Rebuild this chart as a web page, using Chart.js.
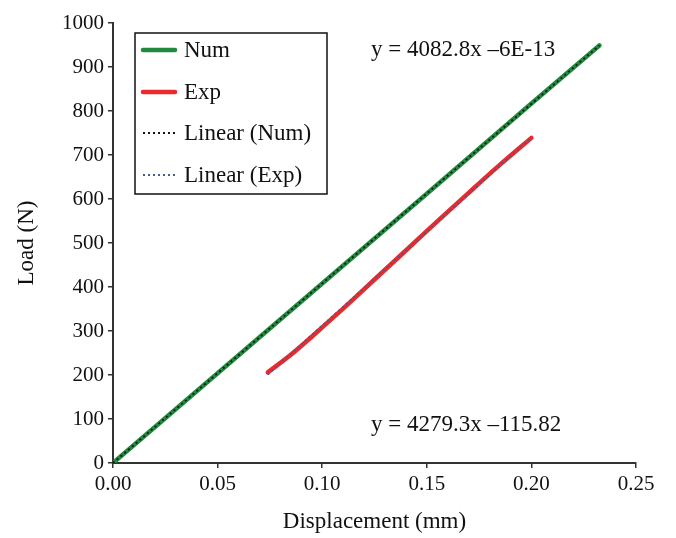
<!DOCTYPE html>
<html>
<head>
<meta charset="utf-8">
<script src="https://cdn.jsdelivr.net/npm/chart.js@4.4.0/dist/chart.umd.min.js"></script>
<style>
    html, body { margin: 0; padding: 0; background: #fff; }
    #wrap { width: 676px; height: 538px; }
</style>
</head>
<body>
<div id="wrap"><canvas id="loadChart" width="676" height="538"></canvas></div>
<script>
/* ===== DATA ===== */
const numX = [0, 0.05, 0.10, 0.15, 0.20, 0.2325];
const numY = [0, 204, 408, 612, 817, 949];

const expX = [0.074, 0.085, 0.095, 0.11, 0.125, 0.14, 0.155, 0.17, 0.185, 0.20];
const expY = [206, 246, 287, 351, 417, 483, 549, 614, 678, 739];

const linNumX = [0, 0.2325];
const linNumY = [0, 949];
const linExpX = [0.074, 0.20];
const linExpY = [201, 740];

const xTicks = [0, 0.05, 0.10, 0.15, 0.20, 0.25];
const yTicks = [0, 100, 200, 300, 400, 500, 600, 700, 800, 900, 1000];

const eqNum = 'y = 4082.8x \u20136E-13';
const eqExp = 'y = 4279.3x \u2013115.82';

function toPoints(xs, ys) {
    return xs.map((x, i) => ({ x: x, y: ys[i] }));
}

const FONT = "'Liberation Serif', 'DejaVu Serif', serif";
Chart.defaults.font.family = FONT;
Chart.defaults.font.size = 21;
Chart.defaults.color = '#111';

/* ===== LEGEND + EQUATIONS ===== */
const extrasPlugin = {
    id: 'extras',
    afterDraw(chart) {
        const ctx = chart.ctx;
        ctx.save();
        // equations
        ctx.fillStyle = '#111';
        ctx.font = '23px ' + FONT;
        ctx.textBaseline = 'middle';
        ctx.textAlign = 'left';
        ctx.fillText(eqNum, 371, 50);
        ctx.fillText(eqExp, 371, 425);

        // legend box
        ctx.fillStyle = '#fff';
        ctx.fillRect(135, 33, 192, 161);
        ctx.strokeStyle = '#111';
        ctx.lineWidth = 1.5;
        ctx.strokeRect(135, 33, 192, 161);

        const rows = [50, 92, 133, 175];
        const labels = chart.data.datasets.slice().sort((a, b) => a.legendIdx - b.legendIdx);
        labels.forEach((ds, i) => {
            const y = rows[i];
            ctx.beginPath();
            ctx.strokeStyle = ds.borderColor;
            ctx.lineWidth = ds.borderDash ? 1.8 : ds.borderWidth;
            ctx.setLineDash(ds.borderDash || []);
            ctx.lineCap = ds.borderDash ? 'butt' : 'round';
            ctx.moveTo(143, y);
            ctx.lineTo(175, y);
            ctx.stroke();
            ctx.setLineDash([]);
            ctx.fillStyle = '#111';
            ctx.fillText(ds.label, 184, y + 1);
        });
        ctx.restore();
    }
};

/* ===== CHART ===== */
new Chart(document.getElementById('loadChart').getContext('2d'), {
    type: 'scatter',
    data: {
        datasets: [
            {
                label: 'Num',
                legendIdx: 0,
                order: 2,
                data: toPoints(numX, numY),
                showLine: true,
                borderColor: '#1f8a3d',
                borderWidth: 4.5,
                pointRadius: 0,
                borderCapStyle: 'round'
            },
            {
                label: 'Exp',
                legendIdx: 1,
                order: 3,
                data: toPoints(expX, expY),
                showLine: true,
                tension: 0.3,
                borderColor: '#ec2a2c',
                borderWidth: 4.5,
                pointRadius: 0,
                borderCapStyle: 'round'
            },
            {
                label: 'Linear (Num)',
                legendIdx: 2,
                order: 0,
                data: toPoints(linNumX, linNumY),
                showLine: true,
                borderColor: '#141414',
                borderWidth: 1.8,
                borderDash: [2, 3],
                pointRadius: 0
            },
            {
                label: 'Linear (Exp)',
                legendIdx: 3,
                order: 1,
                data: toPoints(linExpX, linExpY),
                showLine: true,
                borderColor: '#4a5a8a',
                borderWidth: 1.8,
                borderDash: [2, 3],
                pointRadius: 0
            }
        ]
    },
    options: {
        responsive: false,
        animation: false,
        layout: { padding: { top: 23, right: 40, left: 0, bottom: 0 } },
        plugins: {
            legend: { display: false },
            tooltip: { enabled: false }
        },
        scales: {
            x: {
                type: 'linear',
                min: 0,
                max: 0.25,
                afterBuildTicks: s => { s.ticks = xTicks.map(v => ({ value: v })); },
                afterFit: s => { s.height = 75; },
                ticks: {
                    callback: v => v.toFixed(2),
                    maxRotation: 0,
                    padding: 4,
                    color: '#111'
                },
                grid: { drawOnChartArea: false, drawTicks: true, tickLength: 5, color: '#333', lineWidth: 1.5 },
                border: { color: '#333', width: 2 },
                title: {
                    display: true,
                    text: 'Displacement (mm)',
                    color: '#111',
                    font: { size: 23 },
                    padding: { top: 10, bottom: 2 }
                }
            },
            y: {
                type: 'linear',
                min: 0,
                max: 1000,
                afterBuildTicks: s => { s.ticks = yTicks.map(v => ({ value: v })); },
                afterFit: s => { s.width = 113; },
                ticks: { padding: 4, color: '#111', callback: v => String(v) },
                grid: { drawOnChartArea: false, drawTicks: true, tickLength: 5, color: '#333', lineWidth: 1.5 },
                border: { color: '#333', width: 2 },
                title: {
                    display: true,
                    text: 'Load (N)',
                    color: '#111',
                    font: { size: 23 },
                    padding: { top: 13, bottom: 6 }
                }
            }
        }
    },
    plugins: [extrasPlugin]
});
</script>
</body>
</html>
